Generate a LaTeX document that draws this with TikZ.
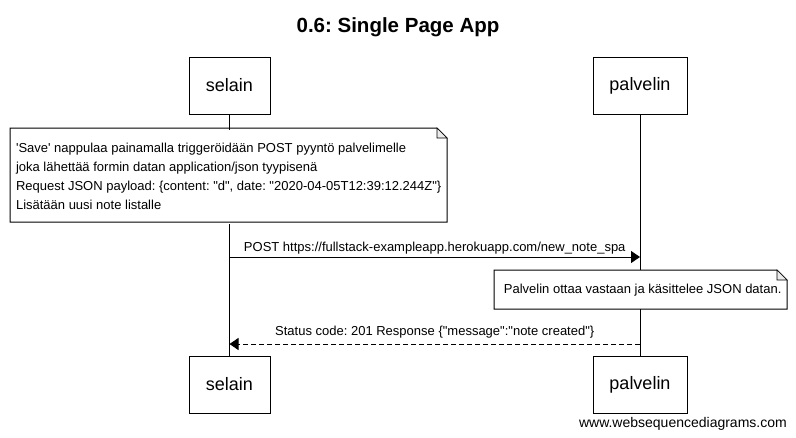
\documentclass[tikz,border=0pt]{standalone}
\usepackage{fontspec}
\setmainfont{Liberation Sans}[Ligatures=TeXOff]
\usetikzlibrary{arrows.meta,positioning,calc}
\definecolor{foldgray}{RGB}{235,235,235}

\begin{document}
\frenchspacing
\begin{tikzpicture}[
  x=1pt,y=-1pt,
  >={Triangle[length=9pt,width=12pt]},
  actor/.style ={draw,fill=white,line width=1pt,minimum height=57pt,
                 inner sep=0pt,font=\fontsize{18}{20}\selectfont},
  note/.style  ={anchor=north west,fill=white,inner sep=0pt,
                 align=left,font=\fontsize{13}{19}\selectfont},
  msg/.style   ={->,line width=1pt},
  reply/.style ={->,line width=1pt,dash pattern=on 5pt off 3pt},
  lbl/.style   ={font=\fontsize{13}{15}\selectfont,inner sep=0pt},
  life/.style  ={line width=1pt},
]
\useasboundingbox (0,0) rectangle (796,437);

%% ── Title ────────────────────────────────────────────────────────────────────
\node[font=\fontsize{20.5}{24}\selectfont\bfseries] (title) at (398,27)
  {0.6: Single Page App};

%% ── Participants (top and bottom) ───────────────────────────────────────────
\node[actor,minimum width=81pt] (selain)   at (229.5,85.5) {selain};
\node[actor,minimum width=94pt] (palvelin) at (640,85.5)   {palvelin};
\node[actor,minimum width=81pt] (selainB)  at (229.5,384.5) {selain};
\node[actor,minimum width=94pt] (palvelinB) at (640,384.5) {palvelin};

%% ── Lifelines ───────────────────────────────────────────────────────────────
\draw[life] (selain.south)   -- (selainB.north);
\draw[life] (palvelin.south) -- (palvelinB.north);

%% ── Note 1: browser side ────────────────────────────────────────────────────
\node[note,minimum width=437pt,minimum height=94pt,yshift=-1.5pt]
  (note1) at (10,128)
  {'Save' nappulaa painamalla triggeröidään POST pyyntö palvelimelle\\
   joka lähettää formin datan application/json tyypisenä\\
   Request JSON payload: \{content: "d", date: "2020-04-05T12:39:12.244Z"\}\\
   Lisätään uusi note listalle};
\draw[line width=1pt] (10,128) -- (437,128) -- (447,138) -- (447,222)
  -- (10,222) -- cycle;
\filldraw[fill=foldgray,line width=0.6pt] (437,128) -- (437,138)
  -- (447,138) -- cycle;

%% ── Message: POST ───────────────────────────────────────────────────────────
\coordinate (postS) at (selain.south |- 0,257);
\coordinate (postP) at (palvelin.south |- 0,257);
\draw[msg] (postS) -- (postP);
\node[lbl] (postlbl) at ($(postS)!0.5!(postP)+(0,-9)$)
  {POST https://fullstack-exampleapp.herokuapp.com/new\_note\_spa};

%% ── Note 2: server side ─────────────────────────────────────────────────────
\node[note,minimum width=293pt,minimum height=39pt,xshift=2pt,
      font=\fontsize{13}{15}\selectfont]
  (note2) at (494,270) {Palvelin ottaa vastaan ja käsittelee JSON datan.};
\fill[white] (494,270) rectangle (496,309);
\draw[line width=1pt] (494,270) -- (777,270) -- (787,280) -- (787,309)
  -- (494,309) -- cycle;
\filldraw[fill=foldgray,line width=0.6pt] (777,270) -- (777,280)
  -- (787,280) -- cycle;

%% ── Message: response ───────────────────────────────────────────────────────
\coordinate (respP) at (palvelin.south |- 0,344);
\coordinate (respS) at (selain.south |- 0,344);
\draw[reply] (respP) -- (respS);
\node[lbl] (resplbl) at ($(respS)!0.5!(respP)+(0,-12)$)
  {Status code: 201 Response \{"message":"note created"\}};

%% ── Footer ──────────────────────────────────────────────────────────────────
\node[anchor=east,font=\fontsize{14}{16}\selectfont,inner sep=0pt]
  (footer) at (787,424) {www.websequencediagrams.com};

\end{tikzpicture}
\end{document}
